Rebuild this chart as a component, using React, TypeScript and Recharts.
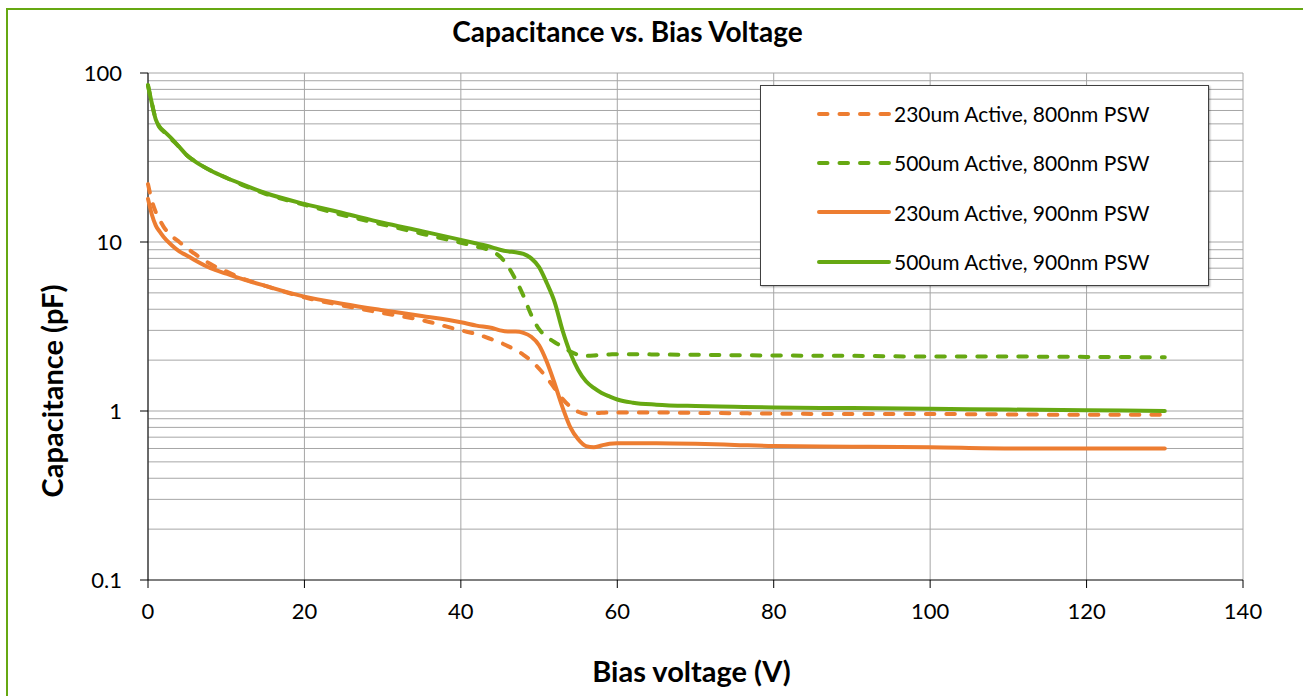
import React from "react";
import {
  LineChart,
  Line,
  XAxis,
  YAxis,
  CartesianGrid,
  Legend,
  Label,
  ReferenceLine,
} from "recharts";

// bias voltage (V)
const voltage = [
  0, 0.5, 1, 1.5, 2, 3, 4, 5, 6, 8, 10, 12, 15, 20, 25, 30, 35, 40, 42, 44, 45,
  46, 47, 48, 49, 50, 51, 52, 53, 54, 55, 56, 57, 58, 59, 60, 62, 65, 70, 75,
  80, 90, 100, 110, 120, 130,
];

// capacitance (pF)
const cap230_800 = [
  22, 17.5, 15, 13.5, 12.3, 10.9, 10.0, 9.2, 8.5, 7.4, 6.7, 6.1, 5.5, 4.7, 4.2,
  3.8, 3.45, 3.0, 2.85, 2.65, 2.55, 2.42, 2.3, 2.15, 1.98, 1.78, 1.57, 1.36,
  1.18, 1.06, 0.99, 0.96, 0.97, 0.975, 0.98, 0.98, 0.98, 0.98, 0.975, 0.97,
  0.965, 0.96, 0.96, 0.955, 0.95, 0.95,
];
const cap500_800 = [
  84, 66, 53, 47.5, 45, 40.5, 36.5, 32.5, 30, 26.5, 24, 21.8, 19.3, 16.6, 14.4,
  12.7, 11.2, 9.9, 9.4, 8.8, 8.2, 7.2, 6.0, 4.8, 3.7, 3.05, 2.75, 2.55, 2.4,
  2.25, 2.15, 2.12, 2.13, 2.15, 2.16, 2.17, 2.17, 2.16, 2.15, 2.14, 2.13, 2.12,
  2.1, 2.1, 2.09, 2.08,
];
const cap230_900 = [
  18, 14.5, 12.5, 11.5, 10.7, 9.6, 8.8, 8.3, 7.8, 7.0, 6.5, 6.05, 5.5, 4.75,
  4.3, 3.95, 3.65, 3.35, 3.2, 3.1, 3.0, 2.95, 2.95, 2.9, 2.75, 2.45, 1.95,
  1.45, 1.05, 0.8, 0.68, 0.62, 0.61, 0.625, 0.64, 0.645, 0.645, 0.645, 0.64,
  0.63, 0.62, 0.615, 0.61, 0.6, 0.6, 0.6,
];
const cap500_900 = [
  85, 66, 53, 48, 45.5, 41, 36.5, 32.5, 30, 26.5, 24, 22, 19.5, 16.8, 14.8,
  13.0, 11.6, 10.3, 9.8, 9.3, 9.0, 8.8, 8.7, 8.5, 8.0, 7.1, 5.7, 4.4, 3.0, 2.2,
  1.75, 1.5, 1.37, 1.28, 1.22, 1.17, 1.12, 1.09, 1.07, 1.06, 1.05, 1.04, 1.03,
  1.02, 1.01, 1.0,
];

const xTicks = [0, 20, 40, 60, 80, 100, 120, 140];
const yTicks = [0.1, 1, 10, 100];
const yMinor = [
  0.2, 0.3, 0.4, 0.5, 0.6, 0.7, 0.8, 0.9, 2, 3, 4, 5, 6, 7, 8, 9, 20, 30, 40,
  50, 60, 70, 80, 90,
];

const ORANGE = "#ED7D31";
const GREEN = "#66A812";
const GRID = "#a6a6a6";
const FONT = "Lato, 'Open Sans', sans-serif";

const series = [
  { key: "c230_800", name: "230um Active, 800nm PSW", color: ORANGE, dash: "8.5 12" },
  { key: "c500_800", name: "500um Active, 800nm PSW", color: GREEN, dash: "8.5 12" },
  { key: "c230_900", name: "230um Active, 900nm PSW", color: ORANGE, dash: undefined },
  { key: "c500_900", name: "500um Active, 900nm PSW", color: GREEN, dash: undefined },
];

const data = voltage.map((v, i) => ({
  v,
  c230_800: cap230_800[i],
  c500_800: cap500_800[i],
  c230_900: cap230_900[i],
  c500_900: cap500_900[i],
}));

function LegendBox() {
  return (
    <div
      style={{
        width: "100%",
        height: "100%",
        boxSizing: "border-box",
        border: "1px solid #404040",
        boxShadow: "1px 1px 2px rgba(0,0,0,0.35)",
        background: "#fff",
        paddingTop: 3,
        fontFamily: FONT,
      }}
    >
      {series.map((s) => (
        <div
          key={s.key}
          style={{ display: "flex", alignItems: "center", height: 49.3 }}
        >
          <svg width={78} height={10} style={{ marginLeft: 54 }}>
            <line
              x1={4}
              y1={5}
              x2={74}
              y2={5}
              stroke={s.color}
              strokeWidth={4}
              strokeLinecap="round"
              strokeDasharray={s.dash}
            />
          </svg>
          <span style={{ fontSize: 21, color: "#000", marginLeft: 1 }}>
            {s.name}
          </span>
        </div>
      ))}
    </div>
  );
}

function XTick({ x, y, payload }: any) {
  return (
    <text
      x={x}
      y={y + 16}
      textAnchor="middle"
      fontFamily={FONT}
      fontSize={22}
      fill="#000"
    >
      {payload.value}
    </text>
  );
}

export default function App() {
  return (
    <div
      style={{
        position: "absolute",
        left: 0,
        top: 0,
        width: 1303,
        height: 696,
        overflow: "hidden",
        background: "#fff",
      }}
    >
      <div
        style={{
          position: "absolute",
          left: 6,
          top: 8,
          width: 1400,
          height: 800,
          border: "2px solid " + GREEN,
        }}
      />
      <div
        style={{
          position: "absolute",
          left: 0,
          width: 1255,
          top: 17,
          textAlign: "center",
          fontFamily: FONT,
          fontWeight: "bold",
          fontSize: 28,
          lineHeight: "28px",
          color: "#000",
        }}
      >
        Capacitance vs. Bias Voltage
      </div>
      <div
        style={{
          position: "absolute",
          left: 52 - 150,
          top: 391 - 17,
          width: 300,
          height: 34,
          lineHeight: "34px",
          textAlign: "center",
          transform: "rotate(-90deg)",
          fontFamily: FONT,
          fontWeight: "bold",
          fontSize: 29,
          color: "#000",
        }}
      >
        Capacitance (pF)
      </div>
      <div style={{ position: "absolute", left: 0, top: 0 }}>
        <LineChart
          width={1303}
          height={696}
          data={data}
          margin={{ top: 73, right: 60, bottom: 0, left: 148 }}
        >
          <CartesianGrid
            stroke={GRID}
            horizontal={false}
            verticalValues={xTicks}
          />
          <XAxis
            dataKey="v"
            type="number"
            domain={[0, 140]}
            ticks={xTicks}
            height={116}
            tickSize={8}
            tickMargin={15}
            axisLine={{ stroke: "#000" }}
            tickLine={{ stroke: "#000" }}
            tick={XTick}
            interval={0}
          >
            <Label
              value="Bias voltage (V)"
              position="insideBottom"
              offset={14}
              dx={-4}
              style={{
                fontFamily: FONT,
                fontWeight: "bold",
                fontSize: 29,
                fill: "#000",
              }}
            />
          </XAxis>
          <YAxis
            hide
            scale="log"
            domain={[0.1, 100]}
            allowDataOverflow
            ticks={yTicks}
          />
          {/* log grid: decades and the 2..9 lines between them */}
          {[...yMinor, ...yTicks.slice(1)].map((t) => (
            <ReferenceLine key={"g" + t} y={t} stroke={GRID} strokeWidth={1} />
          ))}
          {/* value axis drawn by hand: axis line, tick marks and labels */}
          <ReferenceLine x={0} stroke="#000" strokeWidth={1} />
          {yTicks.map((t) => (
            <ReferenceLine
              key={"yt" + t}
              ifOverflow="visible"
              segment={[
                { x: -1.02, y: t },
                { x: 0, y: t },
              ]}
              stroke="#000"
              strokeWidth={1}
            />
          ))}
          {yTicks.map((t) => (
            <ReferenceLine
              key={"yl" + t}
              y={t}
              stroke="none"
              label={{
                value: String(t),
                position: "left",
                offset: 26,
                fill: "#000",
                fontSize: 22,
                fontFamily: FONT,
              }}
            />
          ))}
          <Legend
            layout="horizontal"
            verticalAlign="middle"
            align="center"
            wrapperStyle={{ left: 760, top: 85, width: 449, height: 201 }}
            content={() => <LegendBox />}
          />
          {series.map((s) => (
            <Line
              key={s.key}
              type="monotone"
              dataKey={s.key}
              name={s.name}
              stroke={s.color}
              strokeWidth={4}
              strokeDasharray={s.dash}
              strokeLinecap="round"
              strokeLinejoin="round"
              dot={false}
              activeDot={false}
              isAnimationActive={false}
            />
          ))}
        </LineChart>
      </div>
    </div>
  );
}
